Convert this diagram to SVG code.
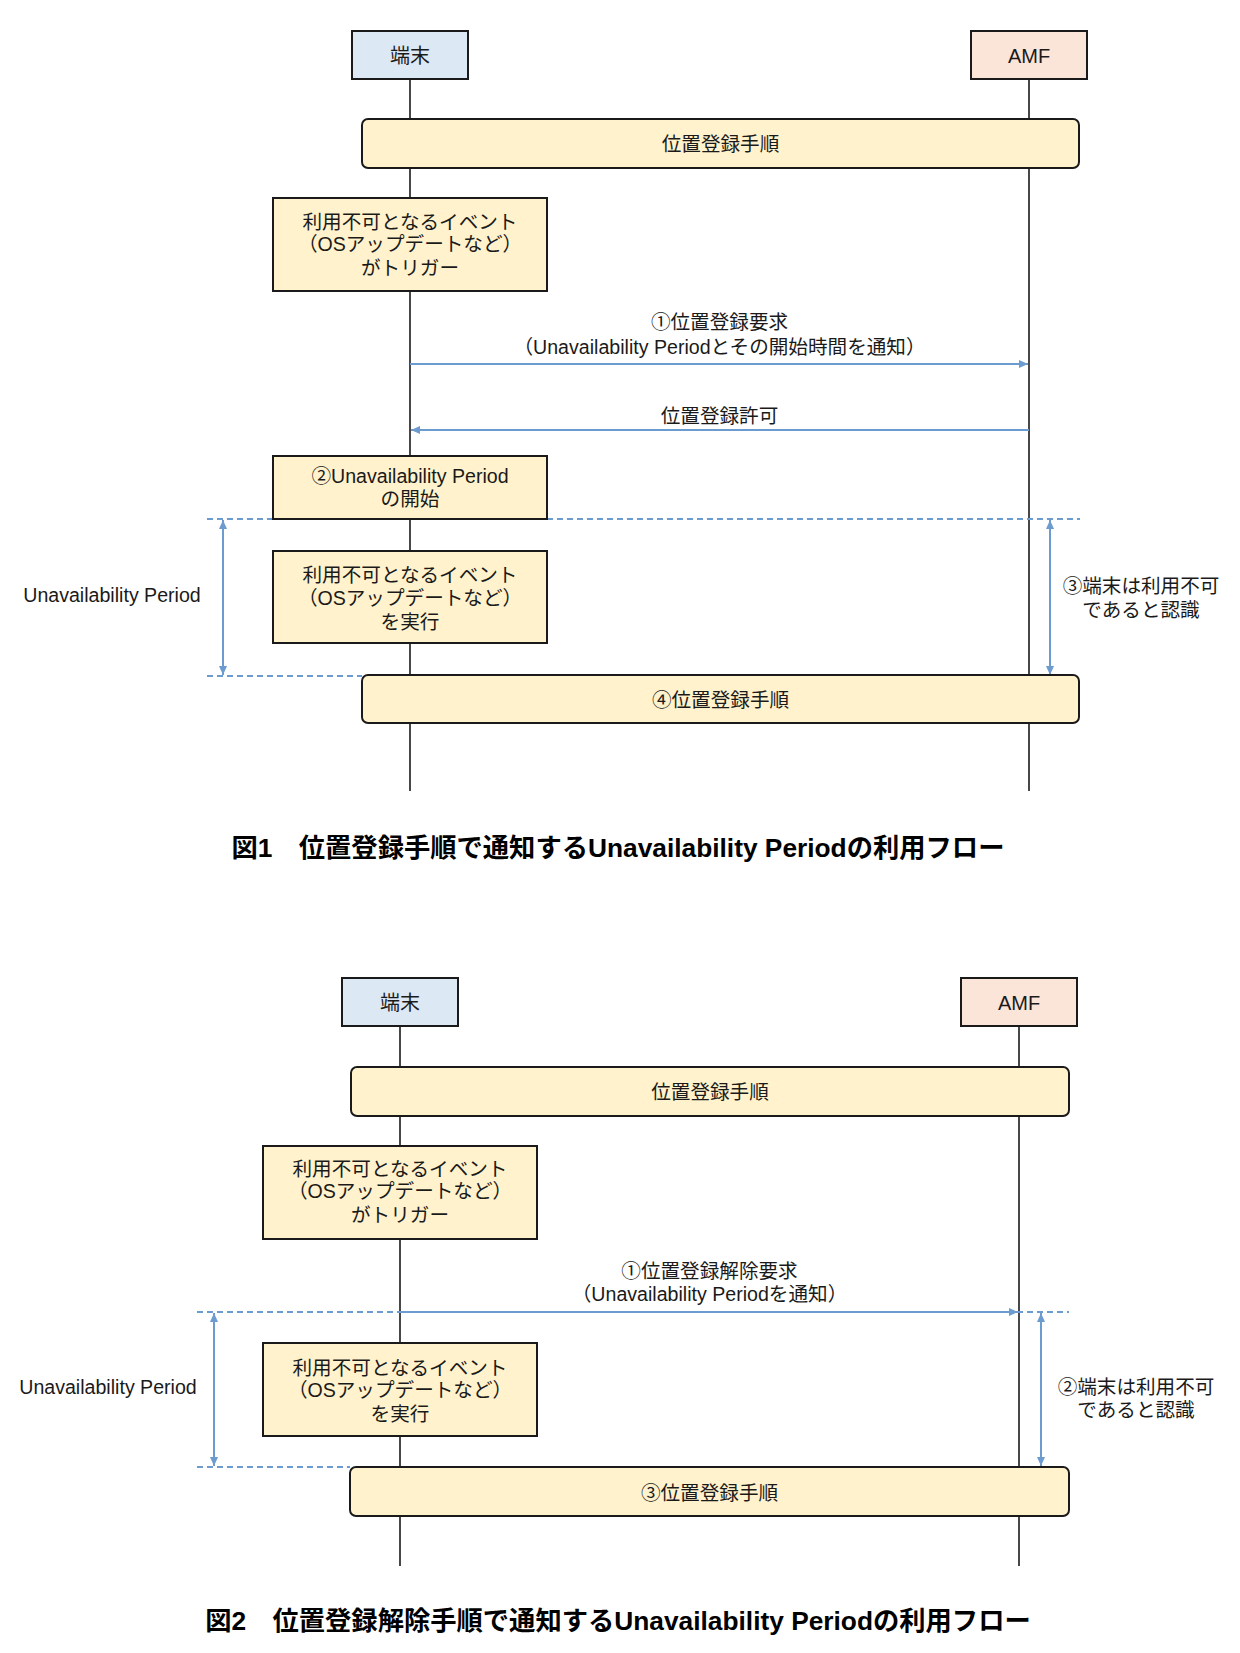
<svg xmlns="http://www.w3.org/2000/svg" width="1240" height="1653" viewBox="0 0 1240 1653">
<style>
text { font-family: "Liberation Sans", "Noto Sans CJK JP", sans-serif; font-size: 19.6px; fill: #1a1a1a; text-anchor: middle; }
.actor { font-size: 20px; }
.title { font-size: 26.3px; font-weight: bold; fill: #000; }
.life { stroke: #1a1a1a; stroke-width: 1.6; fill: none; }
.box { stroke: #1a1a1a; stroke-width: 2; fill: #fff2cc; }
.term { stroke: #1a1a1a; stroke-width: 2; fill: #dde8f5; }
.amf { stroke: #1a1a1a; stroke-width: 2; fill: #fbe4d8; }
.msg { stroke: #6c9bcf; stroke-width: 2; fill: none; }
.dash { stroke: #6c9bcf; stroke-width: 2; stroke-dasharray: 6 4; fill: none; }
</style>
<defs>
<marker id="ah" markerWidth="10" markerHeight="10" refX="9" refY="5" orient="auto-start-reverse" markerUnits="userSpaceOnUse"><path d="M0,1 L9,5 L0,9 Z" fill="#6c9bcf"/></marker>
</defs>

<!-- Figure 1 -->
<g id="fig1-lifelines">
<line class="life" x1="410" y1="79" x2="410" y2="791"/>
<line class="life" x1="1029" y1="79" x2="1029" y2="791"/>
</g>
<g id="fig1-connectors">
<line class="dash" x1="207" y1="519" x2="1080" y2="519"/>
<line class="dash" x1="207" y1="676" x2="362" y2="676"/>
<line class="msg" x1="410" y1="364" x2="1028" y2="364" marker-end="url(#ah)"/>
<line class="msg" x1="1029" y1="430" x2="411" y2="430" marker-end="url(#ah)"/>
<line class="msg" x1="223" y1="520" x2="223" y2="675" marker-start="url(#ah)" marker-end="url(#ah)"/>
<line class="msg" x1="1050" y1="520" x2="1050" y2="675" marker-start="url(#ah)" marker-end="url(#ah)"/>
<text x="719.5" y="329.3">①位置登録要求</text>
<text x="719.5" y="353.5">（Unavailability Periodとその開始時間を通知）</text>
<text x="719.5" y="422.7">位置登録許可</text>
</g>
<g id="fig1-terminal">
<rect class="term" x="352" y="31" width="116" height="48"/>
<text class="actor" x="410" y="62.5">端末</text>
</g>
<g id="fig1-amf">
<rect class="amf" x="971" y="31" width="116" height="48"/>
<text class="actor" x="1029" y="62.5">AMF</text>
</g>
<g id="fig1-proc1">
<rect class="box" x="362" y="119" width="717" height="49" rx="6"/>
<text x="720.5" y="151.2">位置登録手順</text>
</g>
<g id="fig1-event-trigger">
<rect class="box" x="273" y="198" width="274" height="93"/>
<text x="410" y="229.1">利用不可となるイベント</text>
<text x="410" y="251.3">（OSアップデートなど）</text>
<text x="410" y="274.5">がトリガー</text>
</g>
<g id="fig1-period-start">
<rect class="box" x="273" y="456" width="274" height="63"/>
<text x="410" y="483.2">②Unavailability Period</text>
<text x="410" y="506.4">の開始</text>
</g>
<g id="fig1-event-exec">
<rect class="box" x="273" y="551" width="274" height="92"/>
<text x="410" y="582.3">利用不可となるイベント</text>
<text x="410" y="604.5">（OSアップデートなど）</text>
<text x="410" y="628.7">を実行</text>
</g>
<g id="fig1-proc2">
<rect class="box" x="362" y="675" width="717" height="48" rx="6"/>
<text x="720.5" y="706.7">④位置登録手順</text>
</g>
<g id="fig1-label-period">
<text x="112" y="602.4">Unavailability Period</text>
</g>
<g id="fig1-label-recognize">
<text x="1141" y="592.7">③端末は利用不可</text>
<text x="1141" y="617.2">であると認識</text>
</g>
<text class="title" x="618" y="856.5">図1　位置登録手順で通知するUnavailability Periodの利用フロー</text>

<!-- Figure 2 -->
<g id="fig2-lifelines">
<line class="life" x1="400" y1="1026" x2="400" y2="1566"/>
<line class="life" x1="1019" y1="1026" x2="1019" y2="1566"/>
</g>
<g id="fig2-connectors">
<line class="dash" x1="197" y1="1312" x2="1069" y2="1312"/>
<line class="dash" x1="197" y1="1467" x2="350" y2="1467"/>
<line class="msg" x1="400" y1="1312" x2="1018" y2="1312" marker-end="url(#ah)"/>
<line class="msg" x1="214" y1="1313" x2="214" y2="1466" marker-start="url(#ah)" marker-end="url(#ah)"/>
<line class="msg" x1="1041" y1="1313" x2="1041" y2="1466" marker-start="url(#ah)" marker-end="url(#ah)"/>
<text x="709.5" y="1278">①位置登録解除要求</text>
<text x="709.5" y="1300.8">（Unavailability Periodを通知）</text>
</g>
<g id="fig2-terminal">
<rect class="term" x="342" y="978" width="116" height="48"/>
<text class="actor" x="400" y="1009.5">端末</text>
</g>
<g id="fig2-amf">
<rect class="amf" x="961" y="978" width="116" height="48"/>
<text class="actor" x="1019" y="1009.5">AMF</text>
</g>
<g id="fig2-proc1">
<rect class="box" x="351" y="1067" width="718" height="49" rx="6"/>
<text x="710" y="1099.2">位置登録手順</text>
</g>
<g id="fig2-event-trigger">
<rect class="box" x="263" y="1146" width="274" height="93"/>
<text x="400" y="1176.1">利用不可となるイベント</text>
<text x="400" y="1198.3">（OSアップデートなど）</text>
<text x="400" y="1221.5">がトリガー</text>
</g>
<g id="fig2-event-exec">
<rect class="box" x="263" y="1343" width="274" height="93"/>
<text x="400" y="1374.6">利用不可となるイベント</text>
<text x="400" y="1396.8">（OSアップデートなど）</text>
<text x="400" y="1420.9">を実行</text>
</g>
<g id="fig2-proc2">
<rect class="box" x="350" y="1467" width="719" height="49" rx="6"/>
<text x="709.5" y="1499.7">③位置登録手順</text>
</g>
<g id="fig2-label-period">
<text x="108" y="1394.2">Unavailability Period</text>
</g>
<g id="fig2-label-recognize">
<text x="1136" y="1394.3">②端末は利用不可</text>
<text x="1136" y="1417.4">であると認識</text>
</g>
<text class="title" x="618" y="1630">図2　位置登録解除手順で通知するUnavailability Periodの利用フロー</text>
</svg>
